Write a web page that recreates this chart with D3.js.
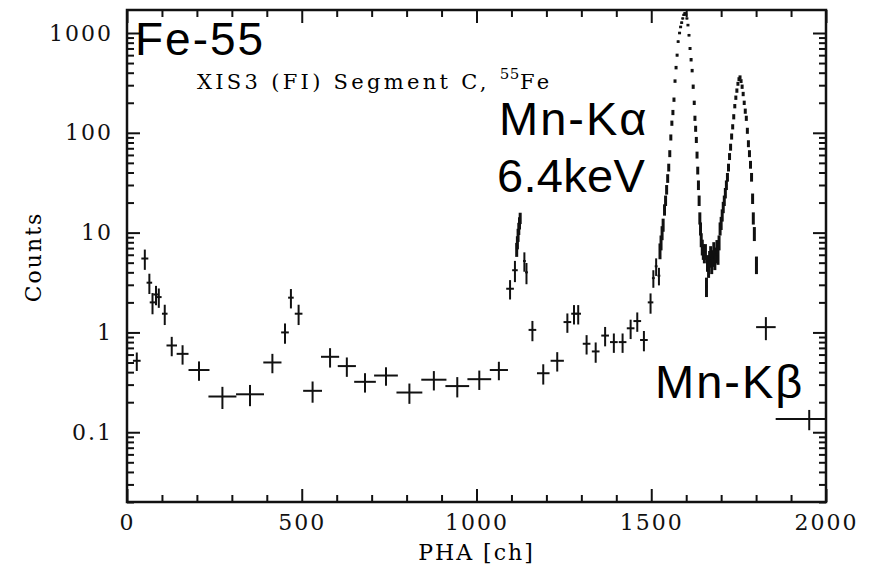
<!DOCTYPE html>
<html>
<head>
<meta charset="utf-8">
<script src="https://cdn.jsdelivr.net/npm/d3@7"></script>
<style>
  body { margin: 0; background: #fff; }
  .tick text { font-family: "DejaVu Serif", serif; font-size: 22px; letter-spacing: 2px; fill: #111; }
</style>
</head>
<body>
<div id="my_dataviz"></div>
<script>

// wide bins (low count part of the spectrum): channel, half bin width, counts, relative error
var lowCh     = [28, 51, 64, 73, 83, 91, 108, 128, 159, 206, 273, 352, 416, 452, 469, 491, 531, 581, 629, 681, 741, 808, 878, 945, 1008, 1064, 1096, 1110, 1137, 1143, 1160, 1191, 1231, 1260, 1279, 1291, 1315, 1341, 1368, 1393, 1418, 1441, 1460, 1479, 1498, 1506, 1514, 1522, 1828, 1952]
var lowHalf   = [11, 10, 8, 8, 8, 8, 8, 15, 17, 30, 40, 40, 26, 11, 8, 11, 27, 26, 26, 31, 34, 37, 36, 34, 34, 26, 11, 8, 4, 4, 11, 18, 19, 11, 8, 8, 11, 11, 11, 11, 11, 11, 11, 11, 8, 4, 4, 4, 28, 96]
var lowCounts = [0.52, 5.5, 3.15, 2.0, 2.4, 2.26, 1.54, 0.74, 0.61, 0.42, 0.228, 0.24, 0.50, 1.0, 2.23, 1.54, 0.26, 0.57, 0.46, 0.32, 0.37, 0.25, 0.336, 0.29, 0.34, 0.42, 2.74, 4.2, 5.2, 4.0, 1.06, 0.39, 0.52, 1.27, 1.54, 1.54, 0.77, 0.645, 0.93, 0.80, 0.80, 1.10, 1.30, 0.84, 2.0, 3.5, 4.6, 3.7, 1.13, 0.136]
var lowErr    = [0.21, 0.23, 0.23, 0.24, 0.22, 0.22, 0.23, 0.22, 0.22, 0.22, 0.25, 0.24, 0.22, 0.23, 0.22, 0.23, 0.24, 0.22, 0.22, 0.22, 0.21, 0.23, 0.22, 0.23, 0.22, 0.21, 0.22, 0.24, 0.22, 0.24, 0.23, 0.23, 0.22, 0.22, 0.22, 0.22, 0.22, 0.23, 0.22, 0.22, 0.22, 0.22, 0.22, 0.23, 0.23, 0.2, 0.2, 0.2, 0.26, 0.23]

// narrow bins (line peaks): channel, counts, relative error
var peakCh     = [1115, 1117, 1119, 1121, 1123, 1125,
  1525, 1528, 1531, 1534, 1538, 1541, 1544, 1547, 1550, 1553, 1556, 1559, 1562, 1565, 1568, 1571, 1574, 1577, 1581, 1584, 1587, 1590, 1593, 1596, 1599, 1602, 1605, 1608, 1611, 1614, 1617, 1620, 1623, 1625, 1627, 1629, 1631, 1633, 1635, 1637, 1639, 1641, 1643, 1646, 1649, 1652, 1655, 1658, 1661, 1664, 1667, 1670, 1673, 1676, 1679, 1682, 1685, 1688, 1691, 1694, 1697,
  1700, 1703, 1706, 1709, 1712, 1715, 1718, 1721, 1724, 1727, 1730, 1733, 1736, 1739, 1742, 1745, 1748, 1751, 1754, 1757, 1760, 1763, 1766, 1769, 1772, 1775, 1778, 1781, 1784, 1787, 1790, 1792, 1795, 1801]
var peakCounts = [6.8, 8.0, 9.5, 11, 12.5, 14,
  6.6, 8, 10, 12, 17, 21, 27, 35, 45, 62, 90, 125, 160, 215, 330, 450, 600, 820, 1000, 1150, 1270, 1400, 1520, 1580, 1530, 1400, 1200, 950, 700, 540, 420, 290, 200, 140, 110, 85, 60, 42, 30, 21, 14, 11, 8.5, 7.2, 6.5, 6.0, 6.5, 2.9, 5.0, 4.4, 5.5, 6.2, 4.8, 5.6, 6.8, 5.2, 6.0, 7.2, 5.8, 8.0, 11,
  12.5, 15, 18, 21, 25, 30, 36, 45, 58, 72, 92, 115, 145, 185, 225, 265, 310, 345, 360, 330, 290, 245, 200, 165, 140, 105, 78, 62, 48, 36, 22, 14, 9.8, 4.8]
var peakErr    = [0.16, 0.15, 0.15, 0.14, 0.14, 0.13,
  0.18, 0.17, 0.16, 0.15, 0.13, 0.12, 0.11, 0.10, 0.09, 0.08, 0.07, 0.06, 0.06, 0.05, 0.04, 0.04, 0.035, 0.03, 0.03, 0.03, 0.03, 0.025, 0.025, 0.025, 0.025, 0.025, 0.03, 0.03, 0.035, 0.04, 0.04, 0.05, 0.05, 0.06, 0.07, 0.07, 0.08, 0.09, 0.11, 0.12, 0.14, 0.15, 0.16, 0.18, 0.18, 0.18, 0.18, 0.22, 0.19, 0.2, 0.19, 0.18, 0.2, 0.19, 0.18, 0.19, 0.18, 0.17, 0.18, 0.17, 0.15,
  0.15, 0.14, 0.13, 0.12, 0.12, 0.11, 0.10, 0.09, 0.08, 0.08, 0.07, 0.06, 0.06, 0.05, 0.05, 0.05, 0.045, 0.045, 0.045, 0.045, 0.05, 0.05, 0.05, 0.06, 0.06, 0.07, 0.08, 0.08, 0.09, 0.10, 0.12, 0.14, 0.16, 0.2]
var peakHalf = 2

// axis ticks
var xMajor = [0, 500, 1000, 1500, 2000]
var yMajor = [0.1, 1, 10, 100, 1000]

// set the dimensions and margins of the graph
var W = 874, H = 572
var margin = {top: 10, right: 48, bottom: 70, left: 127}
var width = W - margin.left - margin.right
var height = H - margin.top - margin.bottom

var root = d3.select("#my_dataviz")
  .append("svg")
    .attr("width", W)
    .attr("height", H)
var svg = root.append("g")
    .attr("transform", "translate(" + margin.left + "," + margin.top + ")")

var x = d3.scaleLinear().domain([0, 2000]).range([0, width])
var y = d3.scaleLog().domain([0.02, 1700]).range([height, 0])

// minor ticks: every 100 ch on x, 2..9 per decade on y
var xMinor = d3.range(0, 2001, 100).filter(function(v){ return v % 500 != 0 })
var yMinor = y.ticks(50).filter(function(v){
  var m = v / Math.pow(10, Math.floor(Math.log10(v) + 1e-9))
  return Math.abs(m - Math.round(m)) < 1e-6 && Math.round(m) != 1
})

function styleAxis(g){
  g.select(".domain").remove()
  g.selectAll(".tick line").attr("stroke", "#111").attr("stroke-width", 2)
}

// bottom / top
svg.append("g").attr("transform", "translate(0," + height + ")")
  .call(d3.axisBottom(x).tickValues(xMajor).tickSize(-13).tickPadding(12).tickFormat(d3.format("d")))
  .call(styleAxis)
svg.append("g").attr("transform", "translate(0," + height + ")")
  .call(d3.axisBottom(x).tickValues(xMinor).tickSize(-7).tickFormat(""))
  .call(styleAxis)
svg.append("g")
  .call(d3.axisTop(x).tickValues(xMajor).tickSize(-13).tickFormat(""))
  .call(styleAxis)
svg.append("g")
  .call(d3.axisTop(x).tickValues(xMinor).tickSize(-7).tickFormat(""))
  .call(styleAxis)

// left / right
svg.append("g")
  .call(d3.axisLeft(y).tickValues(yMajor).tickSize(-13).tickPadding(14).tickFormat(d3.format("~g")))
  .call(styleAxis)
svg.append("g")
  .call(d3.axisLeft(y).tickValues(yMinor).tickSize(-7).tickFormat(""))
  .call(styleAxis)
svg.append("g").attr("transform", "translate(" + width + ",0)")
  .call(d3.axisRight(y).tickValues(yMajor).tickSize(-13).tickFormat(""))
  .call(styleAxis)
svg.append("g").attr("transform", "translate(" + width + ",0)")
  .call(d3.axisRight(y).tickValues(yMinor).tickSize(-7).tickFormat(""))
  .call(styleAxis)

// frame
svg.append("rect")
  .attr("width", width).attr("height", height)
  .attr("fill", "none").attr("stroke", "#111").attr("stroke-width", 2.5)

// data: error bar crosses, clipped to the frame
svg.append("clipPath").attr("id", "clip")
  .append("rect").attr("width", width).attr("height", height)

var pts = lowCh.map(function(c, i){ return {ch: c, hw: lowHalf[i], v: lowCounts[i], e: lowErr[i], w: 2} })
  .concat(peakCh.map(function(c, i){ return {ch: c, hw: peakHalf, v: peakCounts[i], e: peakErr[i], w: 3} }))

var dat = svg.append("g").attr("clip-path", "url(#clip)")
  .attr("stroke", "#111")

dat.selectAll("line.v")
  .data(pts)
  .enter()
  .append("line").attr("class", "v")
    .attr("x1", function(d){ return x(d.ch) })
    .attr("x2", function(d){ return x(d.ch) })
    .attr("y1", function(d){ return y(d.v * (1 - d.e)) })
    .attr("y2", function(d){ return y(d.v * (1 + d.e)) })
    .attr("stroke-width", function(d){ return d.w })

dat.selectAll("line.h")
  .data(pts)
  .enter()
  .append("line").attr("class", "h")
    .attr("x1", function(d){ return x(d.ch - d.hw) })
    .attr("x2", function(d){ return x(d.ch + d.hw) })
    .attr("y1", function(d){ return y(d.v) })
    .attr("y2", function(d){ return y(d.v) })
    .attr("stroke-width", 2)

// axis titles
var serif = '"DejaVu Serif", serif'
svg.append("text")
  .attr("x", width / 2).attr("y", height + 58)
  .attr("text-anchor", "middle")
  .style("font-family", serif).style("font-size", "22px").style("letter-spacing", "2px")
  .text("PHA [ch]")
svg.append("text")
  .attr("transform", "translate(" + (41 - margin.left) + "," + 247 + ") rotate(-90)")
  .attr("text-anchor", "middle")
  .style("font-family", serif).style("font-size", "22px").style("letter-spacing", "2px")
  .text("Counts")

// annotations (page coordinates)
var sans = '"Liberation Sans", Arial, sans-serif'
root.append("text").attr("x", 135).attr("y", 55)
  .style("font-family", sans).style("font-size", "46px").style("letter-spacing", "2px").text("Fe-55")

var sub = root.append("text").attr("x", 197).attr("y", 89)
  .style("font-family", serif).style("font-size", "21px").style("letter-spacing", "3.3px")
sub.append("tspan").text("XIS3 (FI) Segment C, ")
sub.append("tspan").attr("dy", -10).style("font-size", "15px").style("letter-spacing", "0.5px").text("55")
sub.append("tspan").attr("dy", 10).text("Fe")

root.append("text").attr("x", 499).attr("y", 135)
  .style("font-family", sans).style("font-size", "47px").style("letter-spacing", "2px").text("Mn-K\u03b1")
root.append("text").attr("x", 497).attr("y", 192)
  .style("font-family", sans).style("font-size", "47px").style("letter-spacing", "0.3px").text("6.4keV")
root.append("text").attr("x", 655).attr("y", 398)
  .style("font-family", sans).style("font-size", "47px").style("letter-spacing", "2px").text("Mn-K\u03b2")

</script>
</body>
</html>
